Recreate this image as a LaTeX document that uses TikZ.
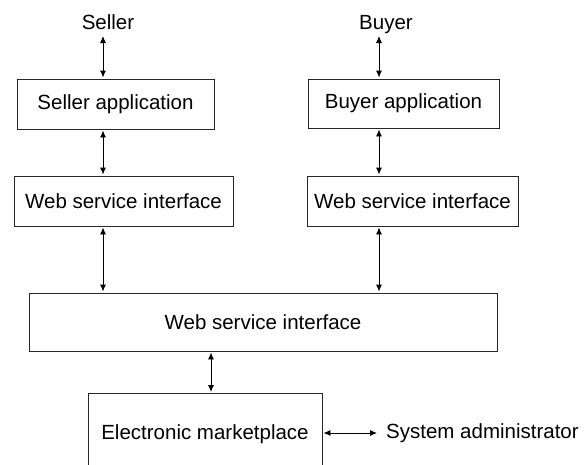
\documentclass[tikz,border=0pt]{standalone}
\usepackage{fontspec}
\setmainfont{Liberation Sans}
\usetikzlibrary{arrows.meta}
\tikzset{
  box/.style={draw=black!85, line width=0.9pt, inner sep=0pt, font=\fontsize{20.5}{24}\selectfont, text=black},
  lbl/.style={inner sep=0pt, font=\fontsize{20.5}{24}\selectfont, text=black},
  link/.style={line width=0.9pt, {Latex[length=7pt,width=6pt]}-{Latex[length=7pt,width=6pt]}, shorten <=1pt, shorten >=1pt}
}
\begin{document}
\begin{tikzpicture}[x=1pt,y=-1pt]
\useasboundingbox (0,0) rectangle (587,464);
\fill[white] (0,0) rectangle (587,464);
% columns
\coordinate (cL) at (103,0);
\coordinate (cR) at (379,0);
\coordinate (cM) at (211,0);
% labels
\node[lbl, anchor=base] (seller) at (108,29) {Seller};
\node[lbl, anchor=base] (buyer) at (386,29) {Buyer};
% boxes
\node[box, minimum width=197pt, minimum height=50pt] (sa) at (115.5,104) {Seller application};
\node[box, minimum width=191pt, minimum height=49pt] (ba) at (403.5,103.5) {Buyer application};
\node[box, minimum width=219pt, minimum height=50pt] (wl) at (123.5,201) {Web service interface};
\node[box, minimum width=211pt, minimum height=50pt] (wr) at (412.5,201) {Web service interface};
\node[box, minimum width=468pt, minimum height=58pt] (big) at (263,322) {Web service interface};
\node[box, minimum width=234pt, minimum height=82pt, anchor=north] (em) at (205,393) {Electronic marketplace};
\node[lbl, anchor=west] (sys) at (386,433) {System administrator};
% connectors
\draw[link] (cL |- 0,35) -- (sa.north -| cL);
\draw[link] (cR |- 0,35) -- (ba.north -| cR);
\draw[link] (sa.south -| cL) -- (wl.north -| cL);
\draw[link] (ba.south -| cR) -- (wr.north -| cR);
\draw[link] (wl.south -| cL) -- (big.north -| cL);
\draw[link] (wr.south -| cR) -- (big.north -| cR);
\draw[link] (big.south -| cM) -- (em.north -| cM);
\draw[link, shorten >=9pt] (em.east |- sys.west) -- (sys.west);
\end{tikzpicture}
\end{document}
